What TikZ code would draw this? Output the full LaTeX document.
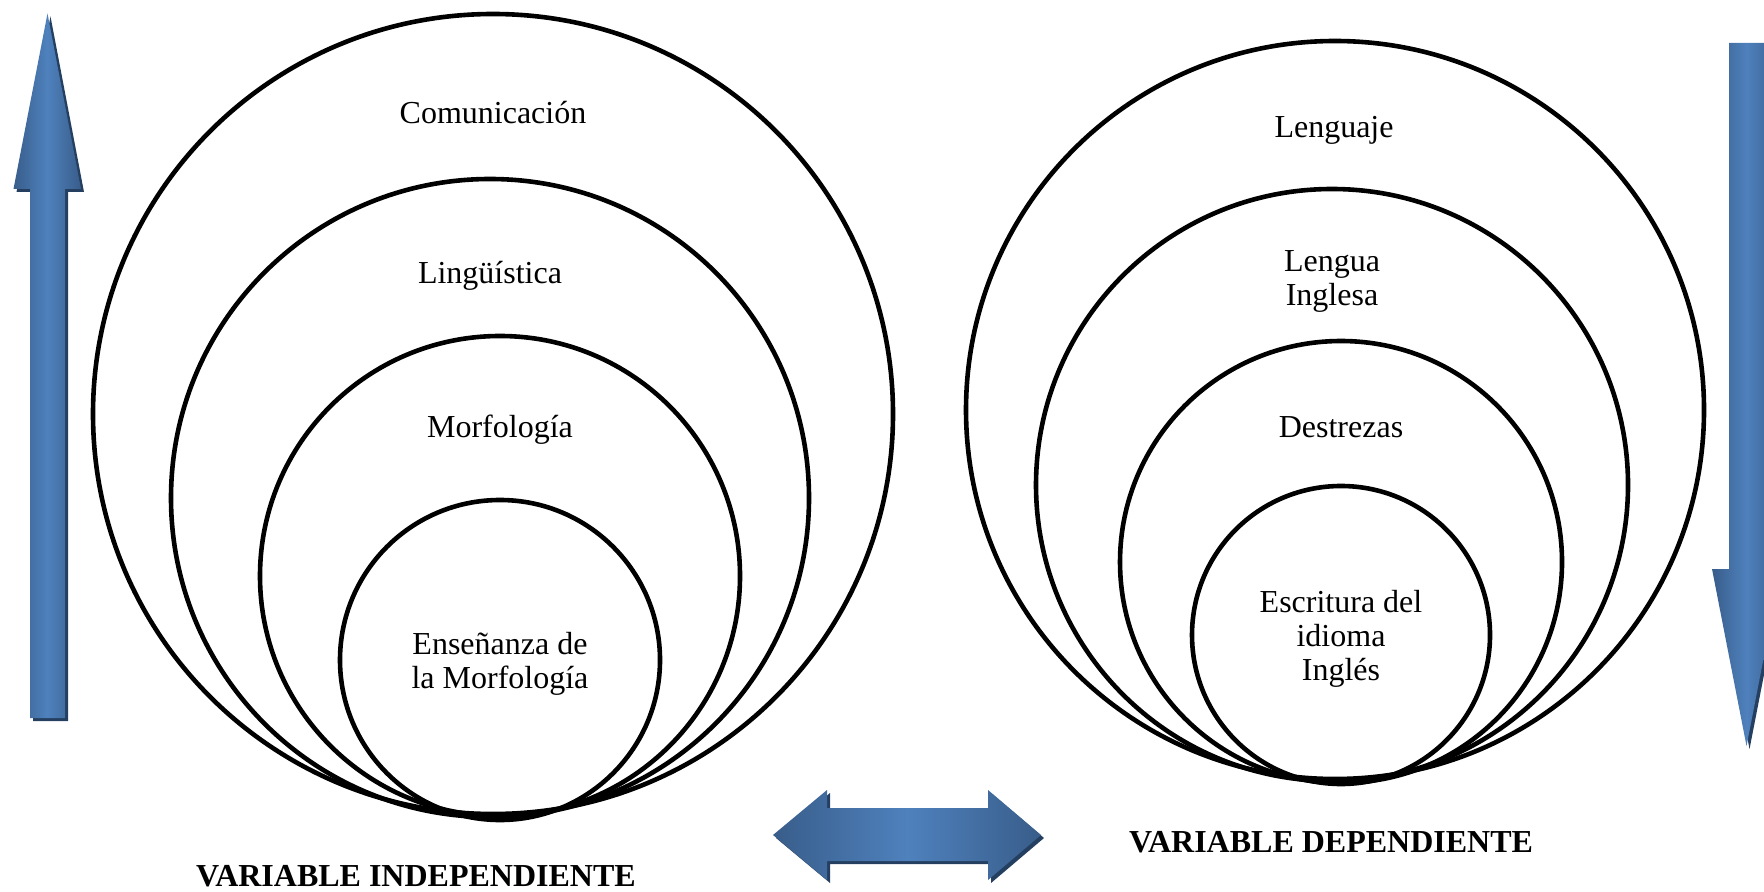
\documentclass[tikz,border=0pt]{standalone}
\usepackage{fontspec}
\setmainfont{Liberation Serif}
\definecolor{arrowlight}{HTML}{4F81BD}
\definecolor{arrowdark}{HTML}{385D8A}
\definecolor{arrowshadow}{HTML}{243F60}
\tikzset{
	ring/.style={circle, draw=black, line width=2.3pt, inner sep=0pt},
	label/.style={align=center, font=\fontsize{16}{17}\selectfont},
	varlabel/.style={inner sep=0.5pt, font=\fontsize{16}{17}\selectfont\bfseries},
	bluearrow/.style={left color=arrowdark, right color=arrowdark, middle color=arrowlight},
	arrowshade/.style={fill=arrowshadow, shift={(3,3)}},
}

\begin{document}
\begin{tikzpicture}[x=0.5pt, y=-0.5pt]
	\useasboundingbox (0,0) rectangle (1764,892);
	\clip (0,0) rectangle (1764,892);
	% independiente
	\node[ring, minimum size=400pt] (comunic) at (493,414) {};
	\node[ring, minimum size=319pt] (lingu) at (490,498) {};
	\node[ring, minimum size=240pt] (morfo) at (500,576) {};
	\node[ring, minimum size=160pt] (ensen) at (500,660) {};
	\node[label] (tcomunic) at (493,113) {Comunicación};
	\node[label] (tlingu) at (490,276) {Lingüística};
	\node[label] (tmorfo) at (500,430) {Morfología};
	\node[label] (tensen) at (500,664) {Enseñanza de\\la Morfología};
	% dependiente
	\node[ring, minimum size=369pt] (lenguaje) at (1335,410) {};
	\node[ring, minimum size=296pt] (lengua) at (1332,485) {};
	\node[ring, minimum size=221pt] (destrez) at (1341,562) {};
	\node[ring, minimum size=149pt] (escrit) at (1341,635) {};
	\node[label] (tlenguaje) at (1334,130) {Lenguaje};
	\node[label] (tlengua) at (1332,281) {Lengua\\Inglesa};
	\node[label] (tdestrez) at (1341,427) {Destrezas};
	\node[label] (tescrit) at (1341,639) {Escritura del\\idioma\\Inglés};
	\node[varlabel] (vind) at (416,876) {VARIABLE INDEPENDIENTE};
	\node[varlabel] (vdep) at (1331,842) {VARIABLE DEPENDIENTE};
	% flechas
	\fill[arrowshade] (30,718) -- (30,189) -- (13.5,189) -- (47.5,13.5) -- (81,189) -- (65,189) -- (65,718) -- cycle;
	\shade[bluearrow] (30,718) -- (30,189) -- (13.5,189) -- (47.5,13.5) -- (81,189) -- (65,189) -- (65,718) -- cycle;
	\fill[arrowshade] (1729,43) -- (1764,43) -- (1764,569) -- (1781,569) -- (1746.5,746) -- (1712,569) -- (1729,569) -- cycle;
	\shade[bluearrow] (1729,43) -- (1764,43) -- (1764,569) -- (1781,569) -- (1746.5,746) -- (1712,569) -- (1729,569) -- cycle;
	\fill[arrowshade] (773,835) -- (827,790) -- (827,808) -- (988,808) -- (988,790) -- (1041,835) -- (988,880) -- (988,861) -- (827,861) -- (827,880) -- cycle;
	\shade[bluearrow] (773,835) -- (827,790) -- (827,808) -- (988,808) -- (988,790) -- (1041,835) -- (988,880) -- (988,861) -- (827,861) -- (827,880) -- cycle;
\end{tikzpicture}
\end{document}
